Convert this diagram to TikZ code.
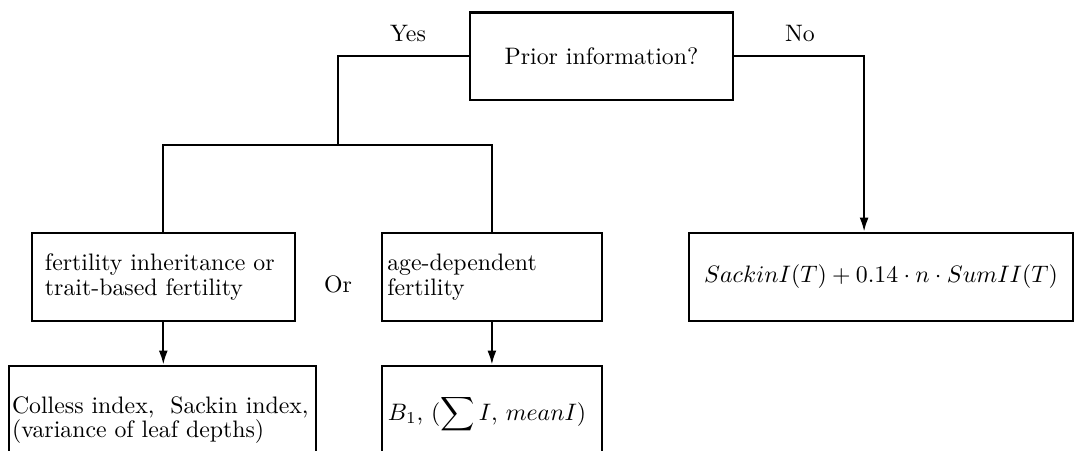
\documentclass[tikz,border=0pt]{standalone}
\usetikzlibrary{arrows.meta}
\begin{document}
\begin{tikzpicture}[x=0.42pt,y=-0.42pt,
  box/.style={draw,line width=0.95pt,inner ysep=0pt,font=\fontsize{10}{10.4}\selectfont},
  lbl/.style={inner sep=0pt,font=\fontsize{10}{12}\selectfont},
  arr/.style={line width=0.95pt,-{Latex[length=6pt,width=3.8pt]}},
  ln/.style={line width=0.95pt}]
\useasboundingbox (0,0) rectangle (1076,451);
\clip (0,0) rectangle (1076,451);
\node[box,minimum width=110.5pt,minimum height=36.75pt] (prior) at (601.5,56.3) {Prior information?};
\node[box,minimum height=37pt,text width=99.4pt,inner xsep=5.6pt,align=left] (lbox) at (163.3,277) {fertility inheritance or\\trait-based fertility};
\node[box,minimum height=37pt,text width=87.9pt,inner xsep=2.3pt,align=left] (abox) at (491.9,277) {age-dependent\\fertility};
\node[box,minimum width=161.3pt,minimum height=37pt] (rbox) at (881,277) {$SackinI(T)+0.14\cdot n\cdot SumII(T)$};
\node[box,minimum height=45.4pt,text width=126.4pt,inner xsep=1.26pt,align=left] (cbox) at (162.5,420) {\mbox{Colless index,\ \ Sackin index,}\\(variance of leaf depths)};
\node[box,minimum height=45.4pt,text width=87.4pt,inner xsep=2.5pt,align=left] (bbox) at (492,420) {$B_1$, ($\displaystyle\sum I$, $meanI$)\\\mbox{}};
\node[lbl,anchor=base] (yes) at (408,42) {Yes};
\node[lbl,anchor=base] (no) at (800,42) {No};
\node[lbl,anchor=base] (or) at (338,293) {Or};
\coordinate (yj) at (338,145);
\draw[ln] (prior.west) -| (yj);
\draw[ln] (lbox.north) |- (abox.north |- yj) -- (abox.north);
\draw[arr] (prior.east) -| ([xshift=-7.1pt]rbox.north);
\draw[arr] (lbox.south) -- (lbox.south |- cbox.north);
\draw[arr] (abox.south) -- (abox.south |- bbox.north);
\end{tikzpicture}
\end{document}
